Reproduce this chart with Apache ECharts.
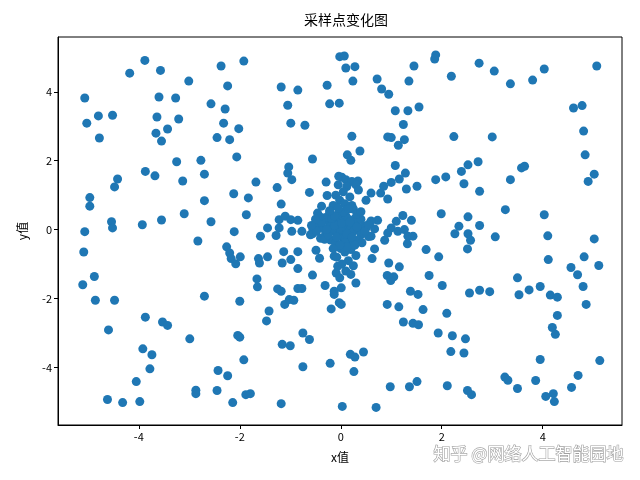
<!DOCTYPE html>
<html>
<head>
<meta charset="utf-8">
<script src="https://cdn.jsdelivr.net/npm/echarts@6/dist/echarts.min.js"></script>
<style>html,body{margin:0;padding:0;background:#fff}#c{width:640px;height:480px}</style>
</head>
<body>
<div id="c"></div>
<script>
const title = "采样点变化图";
const xName = "x值";
const yName = "y值";
const xTicks = [-4, -2, 0, 2, 4];
const yTicks = [-4, -2, 0, 2, 4];

const outerPoints = [
[-3.88,4.91],[-4.18,4.54],[-3.57,4.62],[-3.01,4.31],[-5.07,3.82],[-3.60,3.85],[-3.27,3.82],[-4.80,3.30],[-4.52,3.32],[-5.03,3.09],
[-3.64,3.27],[-3.21,3.21],[-4.78,2.66],[-3.43,2.92],[-3.66,2.80],[-3.55,2.57],[-3.25,1.97],[-2.77,2.01],
[-2.37,4.75],[-1.92,4.89],[-2.24,4.17],[-2.57,3.65],[-2.29,3.50],[-2.32,3.09],[-2.02,2.93],[-2.45,2.67],[-2.20,2.61],[-2.06,2.11],
[-1.18,4.14],[-0.85,4.05],[-1.05,3.61],[-0.99,3.09],[-0.71,3.03],[-0.56,2.05],[-0.27,4.19],[-0.22,3.65],[-0.03,3.67],
[-0.02,5.02],[0.07,5.04],[0.10,4.69],[0.28,4.73],[0.24,4.31],[0.72,4.37],[0.81,4.08],[0.95,3.93],[1.08,3.45],[1.33,3.45],
[1.55,3.56],[1.24,3.05],[1.45,4.75],[1.35,4.31],[1.88,5.07],[1.86,4.95],[2.19,4.45],[2.74,4.83],[0.22,2.71],[0.93,2.69],
[1.00,2.67],[1.26,2.61],[1.14,2.45],[2.24,2.70],[0.13,2.17],[0.20,2.01],[0.38,2.28],[1.08,1.86],[2.52,1.88],[2.72,1.97],
[3.04,4.60],[3.36,4.23],[3.80,4.34],[4.03,4.66],[5.07,4.75],[4.61,3.53],[4.78,3.60],[4.81,2.86],[3.00,2.69],[4.84,2.17],
[3.58,1.79],[3.64,1.84],
[-3.87,1.69],[-3.68,1.56],[-4.42,1.47],[-4.48,1.24],[-3.13,1.41],[-4.97,0.93],[-4.97,0.68],[-4.54,0.23],[-4.52,0.05],[-3.93,0.14],
[-3.55,0.28],[-3.10,0.46],[-5.07,-0.06],[-2.83,-0.33],[-5.09,-0.65],[-4.88,-1.36],[-5.11,-1.60],[-2.70,1.61],[-2.70,0.84],
[-1.03,1.82],[-1.05,1.64],[-0.97,1.45],[-1.68,1.38],[-1.26,1.22],[-0.29,1.38],[-0.04,1.55],[-0.62,1.08],[-0.27,0.99],[-2.12,1.04],
[-1.83,0.92],[-1.18,0.74],[-1.87,0.43],[-2.57,0.23],[-2.11,-0.06],[-1.22,0.29],[-1.10,0.39],[-0.99,0.29],[-0.85,0.27],[-1.45,0.05],
[-1.22,0.05],[-1.59,-0.19],[-1.28,-0.17],[-0.97,-0.05],[-0.77,-0.05],[-0.56,-0.12],[-0.46,0.48],[-0.38,0.68],[-0.22,0.50],[-2.26,-0.50],
[-2.20,-0.68],[-2.17,-0.84],[-2.08,-0.99],[-1.99,-0.79],[-1.63,-0.84],[-1.61,-0.97],[-1.45,-0.79],[-1.13,-0.64],[-0.85,-0.64],[-1.16,-0.97],
[-0.99,-0.87],[-0.85,-1.13],[-0.49,-0.60],[-0.42,-0.83],[-0.56,-1.32],[-1.66,-1.43],[-1.65,-1.66],[-1.25,-1.72],[-1.18,-1.79],[-0.85,-1.71],
[-0.77,-1.71],[-0.31,-1.62],[-0.13,-1.79],[0.01,-1.69],[-0.13,-0.77],[-0.06,-1.06],[-0.09,-1.26],[-2.70,-1.93],
[1.28,1.64],[1.16,1.47],[1.00,1.37],[0.85,1.26],[0.60,1.06],[0.50,0.85],[0.79,1.06],[0.93,0.89],[1.30,1.18],[1.51,1.26],
[0.34,1.41],[1.88,1.45],[2.08,1.53],[2.44,1.33],[2.39,1.69],[2.75,1.11],[0.22,0.70],[0.73,0.27],[0.67,0.02],[0.60,-0.19],
[1.23,0.41],[1.40,0.27],[1.10,0.24],[1.00,0.05],[0.93,-0.10],[1.13,-0.05],[1.26,0.00],[1.33,-0.19],[1.43,-0.19],[0.87,-0.31],
[1.32,-0.41],[1.99,0.46],[2.52,0.37],[2.75,0.12],[2.34,0.10],[2.26,-0.12],[2.52,-0.12],[2.57,-0.31],[2.51,-0.56],[1.69,-0.58],
[1.94,-0.79],[0.67,-0.56],[0.62,-0.84],[0.20,-0.58],[0.95,-0.97],[1.16,-1.08],[0.92,-1.33],[1.05,-1.37],[0.99,-1.48],[1.75,-1.33],
[2.01,-1.62],[0.30,-1.55],[1.38,-1.79],[1.53,-1.88],[2.55,-1.84],[2.75,-1.76],
[3.36,1.45],[5.02,1.61],[4.90,1.40],[3.26,0.58],[4.03,0.43],[3.06,-0.21],[4.10,-0.18],[5.02,-0.27],[4.11,-0.87],[4.82,-0.79],
[4.56,-1.10],[4.69,-1.31],[5.11,-1.04],[3.50,-1.40],[4.80,-1.65],[3.73,-1.75],[3.95,-1.65],[2.95,-1.80],[3.53,-1.89],[4.15,-1.90],
[4.29,-1.96],
[4.86,-2.17],[4.29,-2.49],[4.19,-2.84],[4.25,-3.04],[3.95,-3.77],[5.13,-3.80],[3.25,-4.28],[3.31,-4.37],[3.50,-4.61],[3.86,-4.38],
[4.70,-4.23],[4.57,-4.58],[4.06,-4.84],[4.21,-4.76],[4.23,-4.99],
[0.01,-2.17],[0.92,-2.17],[1.15,-2.24],[1.63,-2.32],[2.10,-2.43],[1.24,-2.68],[1.43,-2.72],[1.54,-2.76],[1.93,-3.00],[2.21,-3.08],
[2.47,-3.17],[2.18,-3.54],[2.44,-3.58],[0.19,-3.62],[0.28,-3.70],[0.45,-3.55],[0.26,-4.12],[0.98,-4.56],[1.36,-4.56],[1.51,-4.41],
[2.11,-4.53],[2.51,-4.67],[2.59,-4.79],[0.03,-5.13],[0.70,-5.16],
[-2.00,-2.08],[-1.11,-2.17],[-1.02,-2.03],[-0.93,-2.05],[-1.42,-2.36],[-1.47,-2.65],[-2.04,-3.07],[-2.00,-3.12],[-1.16,-3.33],[-1.00,-3.37],
[-0.75,-3.00],[-0.62,-3.19],[-1.92,-3.78],[-2.43,-4.09],[-2.24,-4.24],[-0.75,-3.98],[-0.21,-3.88],[-2.45,-4.67],[-1.88,-4.79],[-1.79,-4.76],
[-2.14,-5.02],[-1.18,-5.05],[-0.19,-2.30],[-0.13,-1.88],[-0.03,-2.12],
[-4.86,-2.05],[-4.48,-2.05],[-4.60,-2.91],[-3.87,-2.54],[-3.53,-2.68],[-3.43,-2.78],[-2.99,-3.17],[-3.92,-3.46],[-3.74,-3.63],[-3.78,-4.04],
[-4.05,-4.41],[-2.87,-4.66],[-2.87,-4.76],[-4.62,-4.93],[-4.32,-5.02],[-3.98,-4.99]
];

const centerPoints = [
[0.02,1.52],[0.10,1.45],[0.22,1.40],[-0.05,1.30],[0.12,1.25],[0.30,1.30],[0.05,1.10],[-0.10,1.00],[0.18,0.95],[0.35,1.15],
[-0.02,0.85],[0.08,0.75],[-0.15,0.70],[0.25,0.60],
[-0.45,0.15],[-0.35,0.05],[-0.30,-0.10],[-0.25,0.25],[-0.20,0.10],[-0.15,-0.05],[-0.10,0.20],[-0.05,0.05],[0.00,-0.10],[0.05,0.15],
[0.10,0.00],[0.15,-0.15],[0.20,0.10],[0.25,-0.05],[0.30,0.20],[0.35,0.00],[0.40,-0.15],[0.45,0.10],[-0.40,-0.25],[-0.20,-0.30],
[0.00,0.30],[0.10,0.40],[-0.10,-0.40],[0.20,-0.35],[0.05,-0.25],[-0.05,0.45],[0.15,0.30],[-0.30,0.35],[0.35,-0.30],[0.50,0.05],
[-0.55,0.00],[0.55,-0.20],[0.60,0.25],[-0.60,-0.15],[0.00,0.00],[-0.12,0.12],[0.12,-0.12],[0.28,0.32],
[0.00,-0.55],[0.08,-0.65],[-0.08,-0.80],[0.15,-0.90],[0.02,-1.00],[0.25,-1.05],[0.10,-1.20],[-0.02,-1.40],[0.20,-1.30],[0.30,-0.75],
[-0.38,0.22],[-0.32,-0.28],[-0.25,-0.15],[-0.18,0.32],[-0.08,-0.22],[0.02,0.18],[0.08,-0.38],[0.18,0.22],[0.22,-0.22],[0.32,0.08],
[0.40,0.30],[0.42,-0.38],[-0.48,-0.05],[-0.42,0.38],[-0.12,0.40],[0.05,0.52],[0.12,-0.50],[-0.02,-0.45],[-0.28,0.00],[0.28,-0.45],
[-0.50,0.30],[0.48,-0.05],[0.55,0.15],[-0.58,0.12],[-0.15,-0.55],[0.32,0.45],[-0.22,0.55],[0.15,0.60],[-0.05,0.62],[0.40,0.52]
];

const points = outerPoints.concat(centerPoints);

const font = '"Noto Sans CJK SC", "DejaVu Sans", sans-serif';
const chart = echarts.init(document.getElementById('c'), null, {renderer: 'canvas'});
chart.setOption({
  animation: false,
  backgroundColor: '#ffffff',
  title: {
    text: title, left: 341, textAlign: 'center', top: 8,
    textStyle: {fontFamily: font, fontSize: 14, fontWeight: 'normal', color: '#000'}
  },
  grid: {left: 58, right: 18, top: 37, bottom: 55, show: true, borderColor: '#000', borderWidth: 1, backgroundColor: 'transparent'},
  xAxis: {
    type: 'value', min: -5.6, max: 5.57,
    name: xName, nameLocation: 'middle', nameGap: 26,
    nameTextStyle: {fontFamily: font, fontSize: 12, color: '#000'},
    axisLine: {show: true, onZero: false, lineStyle: {color: '#000', width: 1}},
    axisTick: {show: true, length: 4, customValues: xTicks, lineStyle: {color: '#000'}},
    axisLabel: {customValues: xTicks, fontFamily: font, fontSize: 11, color: '#000', margin: 6},
    splitLine: {show: false}
  },
  yAxis: {
    type: 'value', min: -5.67, max: 5.59,
    name: yName, nameLocation: 'middle', nameGap: 30, nameRotate: 90,
    nameTextStyle: {fontFamily: font, fontSize: 12, color: '#000'},
    axisLine: {show: true, onZero: false, lineStyle: {color: '#000', width: 1}},
    axisTick: {show: true, length: 4, customValues: yTicks, lineStyle: {color: '#000'}},
    axisLabel: {customValues: yTicks, fontFamily: font, fontSize: 11, color: '#000', margin: 6},
    splitLine: {show: false}
  },
  series: [{
    type: 'scatter',
    data: points,
    symbolSize: 9,
    itemStyle: {color: '#1f77b4', opacity: 1}
  }],
  graphic: [{
    type: 'text', right: 16, top: 444,
    style: {text: '知乎 @网络人工智能园地', font: '17px ' + font, fill: '#ffffff', stroke: '#a0a0a0', lineWidth: 1.2}
  }]
});
</script>
</body>
</html>
